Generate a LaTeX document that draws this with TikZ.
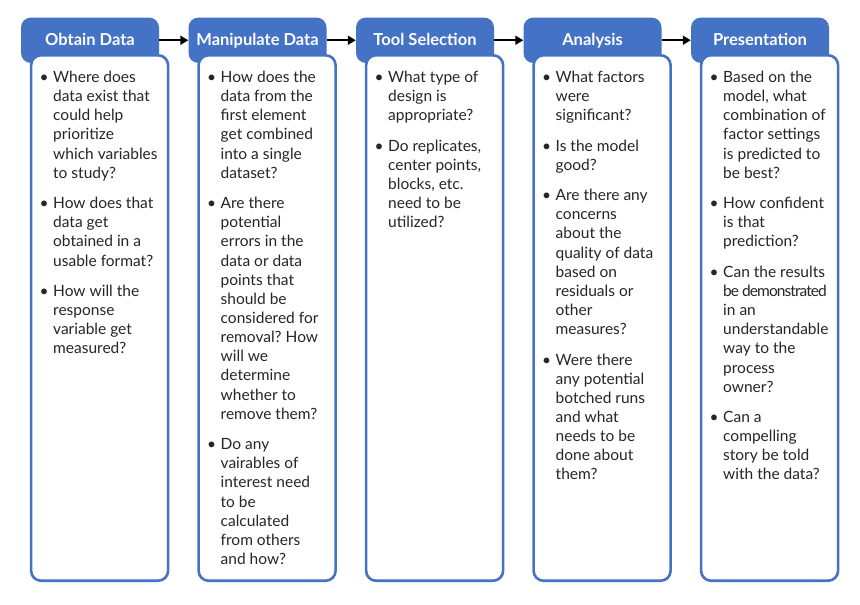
\documentclass[tikz,border=0pt]{standalone}
\usepackage{fontspec}
\setmainfont{Lato}
\usetikzlibrary{arrows.meta}
\definecolor{hblue}{HTML}{4472C4}
\definecolor{txt}{HTML}{262626}
\newcommand{\bul}{\llap{\textbullet\hspace{4.5pt}}}
\frenchspacing
\begin{document}
\begin{tikzpicture}[x=1pt,y=-1pt,
  hdr/.style={rectangle, rounded corners=10pt, fill=hblue, minimum width=138pt, minimum height=45.5pt,
    inner sep=0pt, text=white, font=\fontsize{16.5}{19}\selectfont\bfseries, text height=12pt, text depth=2.4pt},
  bodybox/.style={rectangle, rounded corners=10pt, draw=hblue, line width=2.6pt, fill=white,
    minimum width=137pt, minimum height=525.5pt, inner sep=0pt},
  item/.style={anchor=base west, align=left, inner sep=0pt, text=txt, font=\fontsize{15.5}{19.15}\selectfont, yshift=-2pt},
  arr/.style={line width=1.8pt, -{Triangle[length=8pt,width=9pt]}, black, yshift=-1.5pt}]
\useasboundingbox (0,0) rectangle (860,605);
% columns
\foreach \i/\t in {1/Obtain Data,2/Manipulate Data,3/Tool Selection,4/Analysis,5/Presentation}{
  \node[hdr] (h\i) at ({90+167.5*(\i-1)},40.25) {\t};
  \node[bodybox] (b\i) at ({99.6+167.5*(\i-1)},318) {};
}
\draw[arr] (h1.east) -- (h2.west);
\draw[arr] (h2.east) -- (h3.west);
\draw[arr] (h3.east) -- (h4.west);
\draw[arr] (h4.east) -- (h5.west);
% items are anchored at the baseline of their last line
% column 1
\node[item] (c1a) at (53,176.25) {\bul Where does\\data exist that\\could help\\prioritize\\which variables\\to study?};
\node[item] (c1b) at (53,264.05) {\bul How does that\\data get\\obtained in a\\usable format?};
\node[item] (c1c) at (53,351.85) {\bul How will the\\response\\variable get\\measured?};
% column 2
\node[item] (c2a) at (220.5,176.25) {\bul How does the\\data from the\\first element\\get combined\\into a single\\dataset?};
\node[item] (c2b) at (220.5,417.25) {\bul Are there\\potential\\errors in the\\data or data\\points that\\should be\\considered for\\removal? How\\will we\\determine\\whether to\\remove them?};
\node[item] (c2c) at (220.5,562.5) {\bul Do any\\vairables of\\interest need\\to be\\calculated\\from others\\and how?};
% column 3
\node[item] (c3a) at (388,118.8) {\bul What type of\\design is\\appropriate?};
\node[item] (c3b) at (388,225.75) {\bul Do replicates,\\center points,\\blocks, etc.\\need to be\\utilized?};
% column 4
\node[item] (c4a) at (555.5,118.8) {\bul What factors\\were\\significant?};
\node[item] (c4b) at (555.5,168.3) {\bul Is the model\\good?};
\node[item] (c4c) at (555.5,332.7) {\bul Are there any\\concerns\\about the\\quality of data\\based on\\residuals or\\other\\measures?};
\node[item] (c4d) at (555.5,477.95) {\bul Were there\\any potential\\botched runs\\and what\\needs to be\\done about\\them?};
% column 5
\node[item] (c5a) at (723,176.25) {\bul Based on the\\model, what\\combination of\\factor settings\\is predicted to\\be best?};
\node[item] (c5b) at (723,244.9) {\bul How confident\\is that\\prediction?};
\node[item] (c5c) at (723,390.15) {\bul Can the results\\{\addfontfeatures{LetterSpace=-6}be demonstrated}\\in an\\understandable\\way to the\\process\\owner?};
\node[item] (c5d) at (723,477.95) {\bul Can a\\compelling\\story be told\\with the data?};
\end{tikzpicture}
\end{document}
